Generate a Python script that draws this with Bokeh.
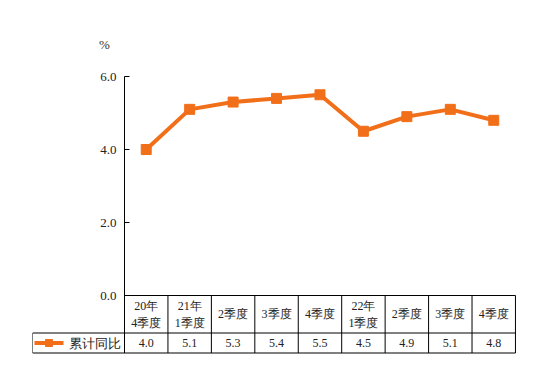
from bokeh.plotting import figure
from bokeh.models import Range1d, ColumnDataSource
from bokeh.core.properties import value
from bokeh.embed import file_html
from bokeh.resources import INLINE

# ---- data ----
categories = ["20年\n4季度", "21年\n1季度", "2季度", "3季度", "4季度",
              "22年\n1季度", "2季度", "3季度", "4季度"]
values = [4.0, 5.1, 5.3, 5.4, 5.5, 4.5, 4.9, 5.1, 4.8]
y_ticks = [0.0, 2.0, 4.0, 6.0]
series_name = "累计同比"
unit_label = "%"

# ---- layout constants (pixels) ----
COL = 43.44      # px per category column
YU = 36.5        # px per y unit
ORANGE = "#F26F1A"
SERIF = value("'Liberation Serif', 'Times New Roman', serif")

def px_x(page_x):
    return (page_x - 124) / COL

def px_y(page_y):
    return (295 - page_y) / YU

W, H = 546, 374
p = figure(width=W, height=H, output_backend="svg", toolbar_location=None,
           x_axis_type=None, y_axis_type=None,
           min_border_left=32, min_border_right=26,
           min_border_top=30, min_border_bottom=14)
p.x_range = Range1d(px_x(32), px_x(520))
p.y_range = Range1d(px_y(360), px_y(30))
p.outline_line_color = None
p.xgrid.visible = False
p.ygrid.visible = False

n = len(categories)
xs = [i + 0.5 for i in range(n)]
row_sep = px_y(332.5)
row_bot = px_y(352.5)
leg_left = px_x(32)

# ---- axis & table lines ----
x0s, y0s, x1s, y1s = [], [], [], []
x0s.append(0); y0s.append(max(y_ticks)); x1s.append(0); y1s.append(row_bot)
for t in y_ticks:
    x0s.append(0); y0s.append(t); x1s.append(5 / COL); y1s.append(t)
x0s.append(0); y0s.append(0); x1s.append(n); y1s.append(0)
x0s.append(leg_left); y0s.append(row_sep); x1s.append(n); y1s.append(row_sep)
x0s.append(leg_left); y0s.append(row_bot); x1s.append(n); y1s.append(row_bot)
for i in range(1, n + 1):
    x0s.append(i); y0s.append(0); x1s.append(i); y1s.append(row_bot)
x0s.append(leg_left); y0s.append(row_sep); x1s.append(leg_left); y1s.append(row_bot)
p.segment(x0s, y0s, x1s, y1s, line_color="black", line_width=1)

# ---- tick labels ----
p.text(x=[px_x(116)] * len(y_ticks), y=y_ticks,
       text=["%.1f" % t for t in y_ticks],
       text_align="right", text_baseline="middle",
       text_font=SERIF, text_font_size="13px", text_color="#222222")
p.text(x=[px_x(104)], y=[px_y(44)], text=[unit_label],
       text_align="center", text_baseline="middle",
       text_font=SERIF, text_font_size="13px", text_color="#333333")

# ---- series ----
src = ColumnDataSource(dict(x=xs, y=values))
p.line("x", "y", source=src, line_color=ORANGE, line_width=4)
p.scatter("x", "y", source=src, marker="square", size=10,
          fill_color=ORANGE, line_color=ORANGE)

# ---- table texts ----
p.text(x=xs, y=[px_y(313.75)] * n, text=categories,
       text_align="center", text_baseline="middle", text_line_height=1.25,
       text_font=SERIF, text_font_size="12px", text_color="#222222")
p.text(x=xs, y=[px_y(342.5)] * n, text=["%.1f" % v for v in values],
       text_align="center", text_baseline="middle",
       text_font=SERIF, text_font_size="12px", text_color="#222222")

# ---- legend cell ----
ly = px_y(342.5)
p.line([px_x(34), px_x(63)], [ly, ly], line_color=ORANGE, line_width=4)
p.scatter([px_x(48.5)], [ly], marker="square", size=7,
          fill_color=ORANGE, line_color=ORANGE)
p.text(x=[px_x(68)], y=[ly], text=[series_name],
       text_align="left", text_baseline="middle",
       text_font=SERIF, text_font_size="13px", text_color="#222222")

open("out.html", "w").write(file_html(p, INLINE))
